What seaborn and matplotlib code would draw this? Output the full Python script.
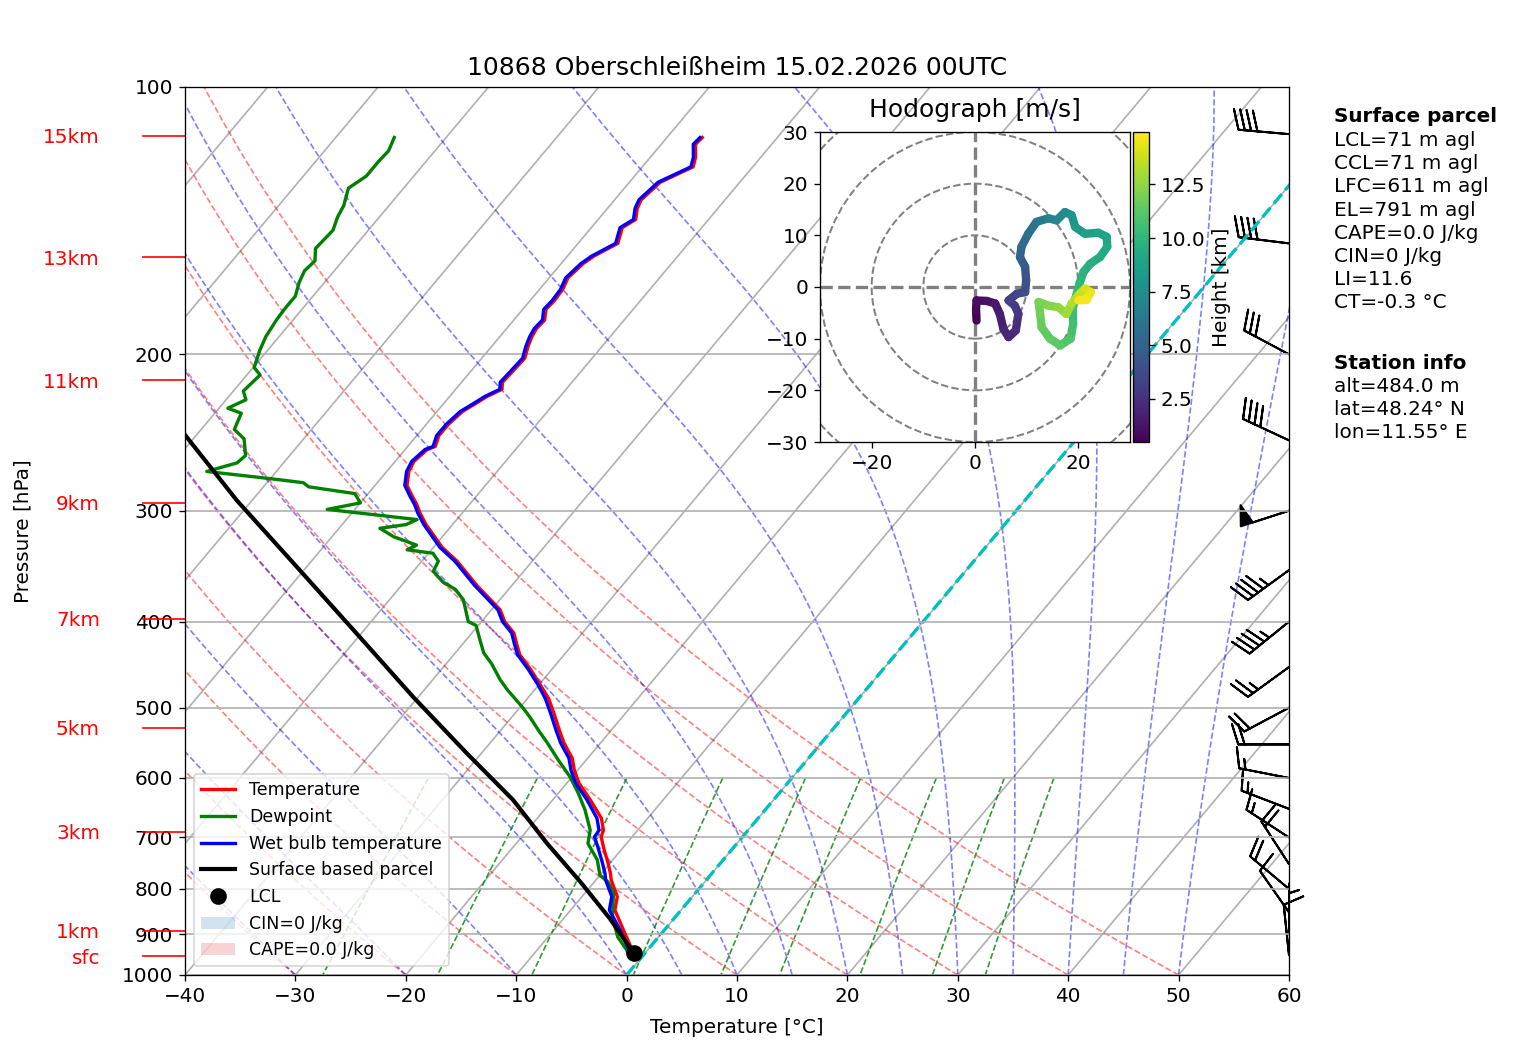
import numpy as np
import matplotlib
matplotlib.use('Agg')
import matplotlib.pyplot as plt
import matplotlib.transforms as mtransforms
from matplotlib.axes import Axes
from matplotlib.projections import register_projection
from matplotlib.collections import LineCollection
from matplotlib.lines import Line2D
from matplotlib.patches import Patch, Circle
from matplotlib.ticker import MultipleLocator, ScalarFormatter, NullLocator
import seaborn as sns

plt.rcParams['font.family'] = ['DejaVu Sans']
plt.rcParams['font.size'] = 12

# Sounding data
p_temp = [952, 937, 890, 845, 816, 782, 768, 746, 720, 699, 687, 666, 635, 608, 588,
          570, 548, 530, 507, 488, 471, 453, 436, 423, 412, 400, 388, 377, 364, 342,
          330, 311, 302, 295, 289, 281, 271, 264, 256, 254, 247, 240, 232, 228, 223,
          219, 215, 209, 202, 196, 191, 187, 183, 178, 174, 169, 164, 158, 155, 150,
          144, 141, 137, 134, 131, 128, 123, 120, 116, 114]
t_temp = [-0.4, -1.4, -3.7, -6.0, -6.8, -8.6, -9.2, -10.3, -11.7, -12.8, -13.1, -14.2, -16.6, -18.9, -20.3,
          -21.4, -23.3, -24.7, -26.5, -28.1, -29.9, -31.9, -34.0, -35.2, -36.2, -37.9, -39.2, -41.0, -43.2, -46.8,
          -49.2, -52.4, -53.8, -54.8, -55.8, -57.1, -58.0, -58.3, -58.0, -57.5, -58.0, -58.0, -57.7, -57.2, -56.6,
          -55.8, -56.3, -56.2, -56.1, -56.7, -57.1, -57.3, -57.2, -57.9, -57.8, -57.9, -58.3, -58.0, -57.6, -56.4,
          -57.2, -56.6, -57.3, -57.6, -57.4, -57.2, -55.4, -55.9, -56.9, -56.8]
t_wetbulb = [-0.8, -1.7, -4.0, -6.5, -7.3, -9.1, -9.7, -10.8, -12.2, -13.4, -13.5, -14.6, -16.9, -19.2, -20.6,
             -21.7, -23.6, -25.0, -26.8, -28.4, -30.1, -32.1, -34.2, -35.4, -36.4, -38.1, -39.4, -41.2, -43.4, -47.0,
             -49.4, -52.6, -54.0, -55.0, -56.0, -57.3, -58.2, -58.5, -58.2, -57.7, -58.2, -58.2, -57.9, -57.4, -56.8,
             -56.0, -56.5, -56.4, -56.3, -56.9, -57.3, -57.5, -57.4, -58.1, -58.0, -58.1, -58.5, -58.2, -57.8, -56.6,
             -57.4, -56.8, -57.5, -57.8, -57.6, -57.4, -55.6, -56.1, -57.1, -57.0]

p_dew = [952, 937, 906, 860, 809, 785, 772, 742, 711, 687, 652, 624, 598, 573, 548,
         530, 512, 501, 486, 478, 465, 446, 434, 420, 404, 400, 378, 368, 361, 351,
         342, 335, 332, 328, 321, 314, 311, 307, 299, 294, 287, 282, 279, 276, 271,
         265, 260, 249, 243, 233, 230, 225, 220, 211, 207, 198, 191, 183, 178, 172,
         166, 161, 157, 152, 145, 140, 136, 130, 126, 121, 118, 114]
t_dew = [-1.2, -1.9, -3.7, -5.7, -7.4, -8.8, -10.0, -11.4, -13.5, -14.3, -16.3, -18.2, -20.2, -22.5, -24.8,
         -26.6, -28.4, -29.6, -31.4, -32.4, -33.9, -35.9, -37.4, -38.7, -40.2, -41.2, -43.3, -44.8, -46.5, -48.2,
         -48.5, -49.6, -52.2, -51.7, -54.4, -56.3, -54.2, -53.6, -62.5, -60.0, -61.2, -65.9, -66.7, -70.1, -76.3,
         -74.2, -74.0, -75.4, -77.0, -77.6, -79.2, -78.2, -79.1, -78.8, -79.9, -80.7, -81.2, -81.5, -81.6, -81.6,
         -82.3, -82.7, -82.5, -83.4, -83.2, -83.8, -84.1, -85.0, -84.3, -84.3, -84.2, -84.7]

p_parcel = [952, 945, 864, 785, 711, 635, 563, 486, 416, 347, 292, 248, 200]
t_parcel = [-0.4, -1.0, -5.8, -11.3, -17.2, -23.6, -31.3, -40.5, -49.9, -60.9, -71.4, -80.7, -92.6]
lcl_p = 945
lcl_t = -1.0

# wind barbs: pressure [hPa], speed [kt], direction [deg]
p_barb = [950, 900, 850, 800, 750, 700, 650, 600, 550, 500, 450, 400, 350, 300, 250, 200, 150, 113]
spd_barb = [10, 5, 10, 20, 20, 15, 15, 15, 20, 20, 25, 45, 45, 50, 40, 30, 40, 40]
dir_barb = [354, 0, 325, 310, 327, 303, 291, 281, 270, 242, 234, 231, 234, 252, 295, 298, 277, 275]

# hodograph: u, v [m/s], height [km]
u_hodo = [0.3, 0.2, 0.3, 2.3, 3.9, 4.8, 5.5, 6.5, 7.9, 8.4, 7.7, 6.5, 8.1, 9.7, 9.9, 9.7, 8.7, 9.0,
          10.3, 11.9, 14.2, 15.8, 17.4, 18.7, 19.4, 21.3, 23.9, 25.5, 25.6, 24.2, 22.3, 21.0, 20.2,
          19.7, 18.9, 19.0, 18.5, 16.5, 14.5, 12.9, 12.6, 12.3, 14.2, 16.1, 17.7, 18.7, 20.0, 21.3,
          22.4, 21.6, 20.0]
v_hodo = [-6.5, -4.5, -2.6, -2.7, -3.2, -5.2, -8.1, -9.7, -8.4, -5.2, -3.6, -2.6, -1.3, -1.0, 1.3, 3.9,
          5.8, 7.8, 10.3, 12.6, 13.3, 12.9, 14.5, 13.9, 11.6, 10.3, 10.5, 9.7, 7.8, 5.8, 4.5, 2.9, 0.6,
          -1.3, -3.9, -7.1, -10.0, -11.3, -10.0, -7.8, -5.2, -2.9, -3.6, -3.9, -5.2, -3.2, -1.6, -0.3,
          -1.0, -2.5, -2.6]
z_hodo = [0.48, 0.7, 0.9, 1.1, 1.3, 1.5, 1.8, 2.0, 2.3, 2.6, 2.9, 3.1, 3.4, 3.7, 4.0, 4.4, 4.8, 5.2,
          5.6, 6.1, 6.6, 7.0, 7.4, 7.8, 8.1, 8.4, 8.7, 8.9, 9.1, 9.3, 9.5, 9.7, 9.9, 10.1, 10.3, 10.5,
          10.8, 11.1, 11.3, 11.5, 11.7, 11.9, 12.1, 12.4, 12.7, 13.1, 13.5, 13.9, 14.3, 14.6, 14.95]

# height labels on the left
km_labels = ['sfc', '1km', '3km', '5km', '7km', '9km', '11km', '13km', '15km']
km_pres = [952, 892, 690, 527, 397, 294, 214, 155.4, 113.5]

surface_lines = ['LCL=71 m agl', 'CCL=71 m agl', 'LFC=611 m agl', 'EL=791 m agl',
                 'CAPE=0.0 J/kg', 'CIN=0 J/kg', 'LI=11.6', 'CT=-0.3 °C']
station_lines = ['alt=484.0 m', 'lat=48.24° N', 'lon=11.55° E']

SKEW_DEG = 40


class SkewTransform(mtransforms.Affine2DBase):
    # skew in display space around the lower edge of the axes
    def __init__(self, bbox, rot):
        super().__init__()
        self._bbox = bbox
        self.set_children(bbox)
        self._factor = np.tan(np.deg2rad(rot))
        self._mtx = None

    def get_matrix(self):
        if self._invalid or self._mtx is None:
            self._mtx = np.array([[1.0, self._factor, -self._factor * self._bbox.ymin],
                                  [0.0, 1.0, 0.0],
                                  [0.0, 0.0, 1.0]])
            self._inverted = None
            self._invalid = 0
        return self._mtx


class SkewXAxes(Axes):
    name = 'skewx'

    def _set_lim_and_transforms(self):
        super()._set_lim_and_transforms()
        self.transData = self.transData + SkewTransform(self.bbox, SKEW_DEG)


register_projection(SkewXAxes)


def moist_adiabats(t0, pres):
    def lapse(p, tk):
        es = 6.112 * np.exp(17.67 * (tk - 273.15) / (tk - 29.65))
        rs = 0.622 * es / (p - es)
        return (287.04 * tk + 2.501e6 * rs) / (p * (1005.7 + 2.501e6 ** 2 * rs * 0.622 / (287.04 * tk ** 2)))
    temps = [np.asarray(t0, dtype=float) + 273.15]
    for pa, pb in zip(pres[:-1], pres[1:]):
        h = pb - pa
        tk = temps[-1]
        k1 = lapse(pa, tk)
        k2 = lapse(pa + h / 2, tk + h / 2 * k1)
        k3 = lapse(pa + h / 2, tk + h / 2 * k2)
        k4 = lapse(pb, tk + h * k3)
        temps.append(tk + h / 6 * (k1 + 2 * k2 + 2 * k3 + k4))
    return np.array(temps).T - 273.15


W, H, DPI = 1517, 1060, 120
fig = plt.figure(figsize=(W / DPI, H / DPI), dpi=DPI)
ax = fig.add_axes([185 / W, 1 - 975 / H, 1104 / W, 888 / H], projection='skewx')
ax.set_yscale('log')

# background lines
pres_bg = np.linspace(1000, 100, 91)
iso_t = np.arange(-120, 61, 10)
ax.add_collection(LineCollection([[(t, 1000), (t, 100)] for t in iso_t],
                                 colors='#b0b0b0', lw=1, zorder=0.9))

dry_t0 = np.arange(-40, 51, 10)
dry = (dry_t0[:, None] + 273.15) * (pres_bg[None, :] / 1000.0) ** 0.2857 - 273.15
ax.add_collection(LineCollection([np.column_stack([d, pres_bg]) for d in dry],
                                 colors='r', linestyles='dashed', alpha=0.5, lw=1, zorder=1))

moist_t0 = np.concatenate((np.arange(-40, 0, 10), np.arange(0, 51, 5)))
moist = moist_adiabats(moist_t0, pres_bg)
ax.add_collection(LineCollection([np.column_stack([m, pres_bg]) for m in moist],
                                 colors='b', linestyles='dashed', alpha=0.5, lw=1, zorder=1))

mix_w = np.array([0.0004, 0.001, 0.002, 0.004, 0.007, 0.01, 0.016, 0.024, 0.032])
pres_mix = np.linspace(600, 1000, 41)
e_mix = pres_mix[None, :] * mix_w[:, None] / (0.622 + mix_w[:, None])
ln_e = np.log(e_mix / 6.112)
td_mix = 243.5 * ln_e / (17.67 - ln_e)
ax.add_collection(LineCollection([np.column_stack([m, pres_mix]) for m in td_mix],
                                 colors='g', linestyles='dashed', alpha=0.8, lw=1, zorder=1))

ax.plot([0, 0], [1000, 100], color='c', ls='--', lw=2, zorder=1.5)

# sounding traces
sns.lineplot(x=t_temp, y=p_temp, ax=ax, sort=False, estimator=None, color='r', lw=2, legend=False)
sns.lineplot(x=t_dew, y=p_dew, ax=ax, sort=False, estimator=None, color='g', lw=2, legend=False)
sns.lineplot(x=t_wetbulb, y=p_temp, ax=ax, sort=False, estimator=None, color='b', lw=2, legend=False)
sns.lineplot(x=t_parcel, y=p_parcel, ax=ax, sort=False, estimator=None, color='k', lw=2.5, legend=False)
ax.plot([lcl_t], [lcl_p], 'ko', markersize=9, zorder=5)

# wind barbs at the right edge
ytrans = ax.get_yaxis_transform()
wdir = np.deg2rad(dir_barb)
u_kt = -np.array(spd_barb) * np.sin(wdir)
v_kt = -np.array(spd_barb) * np.cos(wdir)
ax.barbs(np.ones(len(p_barb)), p_barb, u_kt, v_kt, transform=ytrans, clip_on=False, length=7.8, lw=1.2)

# height labels
lab_trans = mtransforms.offset_copy(ytrans, fig=fig, x=0, y=-7.5 * 72 / DPI, units='points')
for lab, pk in zip(km_labels, km_pres):
    ax.plot([-0.038, 0], [pk, pk], transform=ytrans, color='r', lw=1, clip_on=False)
    ax.text(-0.077, pk, lab, transform=lab_trans, color='r', ha='right', va='baseline')

ax.yaxis.set_major_locator(MultipleLocator(100))
ax.yaxis.set_major_formatter(ScalarFormatter())
ax.yaxis.set_minor_locator(NullLocator())
ax.yaxis.grid(True, color='#b0b0b0', lw=1)
ax.set_xticks(np.arange(-40, 61, 10))
ax.tick_params(axis='x', top=False)
ax.set_ylim(1000, 100)
ax.set_xlim(-40, 60)
ax.set_xlabel('Temperature [°C]', labelpad=7.5)
ax.set_ylabel('Pressure [hPa]')
ax.yaxis.set_label_coords(-0.138, 0.5)
ax.set_title('10868 Oberschleißheim 15.02.2026 00UTC', fontsize=15, pad=7.2)

handles = [Line2D([], [], color='r', lw=2, label='Temperature'),
           Line2D([], [], color='g', lw=2, label='Dewpoint'),
           Line2D([], [], color='b', lw=2, label='Wet bulb temperature'),
           Line2D([], [], color='k', lw=2.5, label='Surface based parcel'),
           Line2D([], [], color='k', marker='o', ls='none', markersize=9, label='LCL'),
           Patch(facecolor='tab:blue', alpha=0.2, label='CIN=0 J/kg'),
           Patch(facecolor='tab:red', alpha=0.2, label='CAPE=0.0 J/kg')]
ax.legend(handles=handles, loc='lower left', fontsize=10.4)

# hodograph inset
axh = fig.add_axes([820 / W, 1 - 442 / H, 310 / W, 310 / H])
for r in (10, 20, 30, 40):
    axh.add_patch(Circle((0, 0), r, fill=False, ec='grey', ls='--', lw=1.2))
axh.axhline(0, color='grey', ls='--', lw=2)
axh.axvline(0, color='grey', ls='--', lw=2)
pts = np.column_stack([u_hodo, v_hodo])
segs = np.stack([pts[:-1], pts[1:]], axis=1)
zz = np.array(z_hodo)
lc = LineCollection(segs, cmap='viridis', norm=plt.Normalize(zz.min(), zz.max()), lw=5,
                    capstyle='round', joinstyle='round')
lc.set_array((zz[:-1] + zz[1:]) / 2)
axh.add_collection(lc)
axh.set_xlim(-30, 30)
axh.set_ylim(-30, 30)
axh.set_xticks([-20, 0, 20])
axh.set_yticks(np.arange(-30, 31, 10))
axh.set_title('Hodograph [m/s]', fontsize=15, pad=9.2)
cax = fig.add_axes([1133 / W, 1 - 442 / H, 16 / W, 310 / H])
cb = fig.colorbar(lc, cax=cax)
cb.set_label('Height [km]')

# info text
x_txt = 1334 / W
fig.text(x_txt, 1 - 122.5 / H, 'Surface parcel', fontweight='bold', va='baseline')
for i, line in enumerate(surface_lines):
    fig.text(x_txt, 1 - (146 + 23.2 * i) / H, line, va='baseline')
fig.text(x_txt, 1 - 369 / H, 'Station info', fontweight='bold', va='baseline')
for i, line in enumerate(station_lines):
    fig.text(x_txt, 1 - (392 + 23 * i) / H, line, va='baseline')

fig.savefig('out.png', dpi=DPI)
